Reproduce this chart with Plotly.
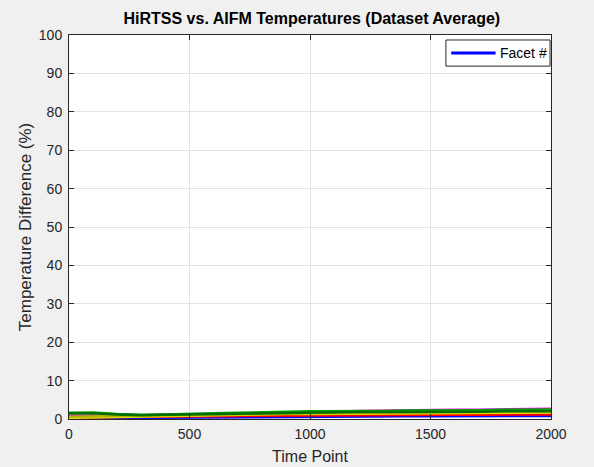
import plotly.graph_objects as go

time_points = [0, 100, 200, 300, 400, 500, 600, 700, 800, 900, 1000,
               1100, 1200, 1300, 1400, 1500, 1600, 1700, 1800, 1900, 2000]

facet_blue = [0.2, 0.25, 0.3, 0.35, 0.4, 0.45, 0.5, 0.55, 0.55, 0.6, 0.6,
              0.65, 0.65, 0.7, 0.7, 0.7, 0.75, 0.75, 0.8, 0.8, 0.8]
facet_red = [0.5, 0.4, 0.5, 0.6, 0.65, 0.7, 0.75, 0.8, 0.85, 0.9, 0.9,
             0.95, 1.0, 1.0, 1.05, 1.05, 1.1, 1.1, 1.1, 1.15, 1.2]
facet_magenta = [0.8, 0.8, 0.9, 1.0, 1.1, 1.2, 1.3, 1.5, 1.6, 1.7, 1.8,
                 1.9, 2.1, 2.2, 2.3, 2.3, 2.4, 2.4, 2.5, 2.6, 2.7]
facet_yellow = [0.3, 0.4, 0.6, 0.8, 0.9, 1.0, 1.1, 1.1, 1.2, 1.3, 1.3,
                1.35, 1.4, 1.4, 1.45, 1.5, 1.5, 1.55, 1.6, 1.65, 1.7]
facet_olive = [0.6, 0.7, 0.8, 0.9, 1.0, 1.1, 1.2, 1.3, 1.35, 1.4, 1.5,
               1.5, 1.55, 1.6, 1.65, 1.7, 1.75, 1.8, 1.85, 1.9, 2.0]
facet_green = [1.6, 1.7, 1.3, 1.1, 1.2, 1.4, 1.5, 1.6, 1.8, 1.9, 2.0,
               2.0, 2.1, 2.1, 2.2, 2.2, 2.3, 2.3, 2.4, 2.4, 2.5]
facet_darkgreen = [1.4, 1.5, 1.2, 1.0, 1.1, 1.2, 1.3, 1.4, 1.5, 1.6, 1.7,
                   1.7, 1.8, 1.8, 1.8, 1.9, 1.9, 1.9, 2.0, 2.0, 2.0]

series = [
    (facet_blue, "#0000ff"),
    (facet_red, "#ff0000"),
    (facet_magenta, "#ff00ff"),
    (facet_yellow, "#e6e600"),
    (facet_olive, "#b5b500"),
    (facet_green, "#00a000"),
    (facet_darkgreen, "#007000"),
]

FONT = "Liberation Sans, Arial"

fig = go.Figure()
for i, (vals, col) in enumerate(series):
    fig.add_trace(go.Scatter(
        x=time_points, y=vals, mode="lines",
        line=dict(color=col, width=2.5),
        name="Facet #", showlegend=False))

axis_common = dict(
    showgrid=True, gridcolor="#e3e3e3", gridwidth=1,
    showline=True, linecolor="#262626", linewidth=1, mirror="ticks",
    ticks="inside", ticklen=5, tickcolor="#262626",
    tickfont=dict(family=FONT, size=14, color="#262626"),
    zeroline=False, automargin=False,
)

fig.update_layout(
    width=594, height=467,
    margin=dict(l=69, r=43, t=35, b=48),
    paper_bgcolor="#f0f0f0", plot_bgcolor="#ffffff",
    title=dict(text="<b>HiRTSS vs. AIFM Temperatures (Dataset Average)</b>",
               x=0.525, xanchor="center", y=0.96, yanchor="middle",
               automargin=False,
               font=dict(family=FONT, size=16, color="#000000")),
    xaxis=dict(range=[0, 2000], tickvals=[0, 500, 1000, 1500, 2000],
               ticklabelstandoff=2,
               title=dict(text="Time Point", standoff=10,
                          font=dict(family=FONT, size=16, color="#262626")),
               **axis_common),
    yaxis=dict(range=[0, 100], tickvals=list(range(0, 101, 10)),
               ticklabelstandoff=3,
               title=dict(text="Temperature Difference (%)", standoff=2,
                          font=dict(family=FONT, size=17, color="#262626")),
               **axis_common),
    showlegend=False,
)

# Legend box drawn manually (MATLAB style)
fig.add_shape(type="rect", xref="paper", yref="paper",
              x0=0.782, x1=0.998, y0=0.919, y1=0.987,
              line=dict(color="#262626", width=1), fillcolor="#ffffff", layer="above")
fig.add_shape(type="line", xref="paper", yref="paper",
              x0=0.793, x1=0.885, y0=0.953, y1=0.953,
              line=dict(color="#0000ff", width=3), layer="above")
fig.add_annotation(text="Facet #", xref="paper", yref="paper",
                   x=0.891, y=0.953, xanchor="left", yanchor="middle",
                   showarrow=False, font=dict(family=FONT, size=14, color="#000000"))

fig.write_html("out.html")
